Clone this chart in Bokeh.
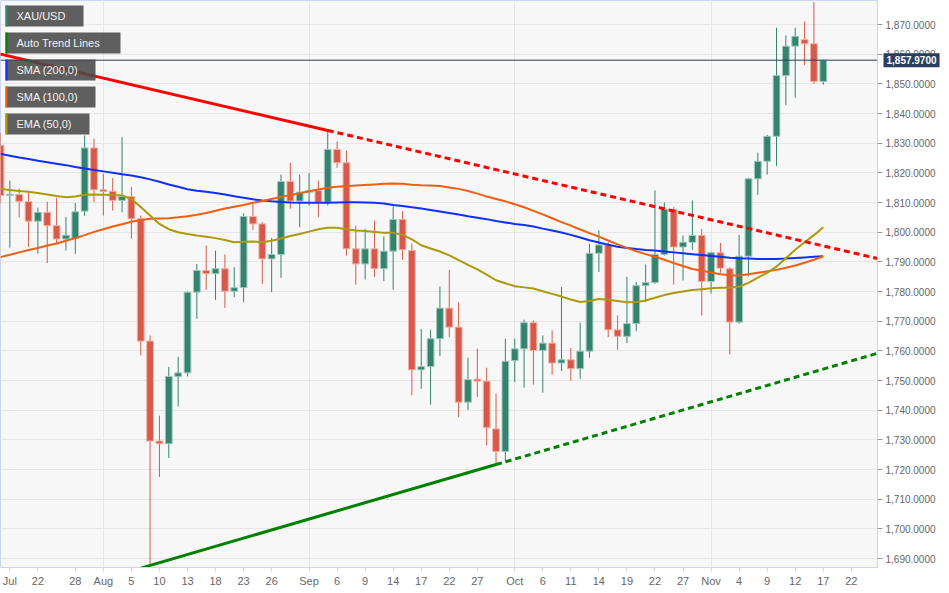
import numpy as np
import pandas as pd
from bokeh.plotting import figure
from bokeh.models import (FixedTicker, NumeralTickFormatter, Span, Label, BoxAnnotation,
                          PolyAnnotation, Range1d, ColumnDataSource)
from bokeh.embed import file_html
from bokeh.resources import INLINE

# ---------------- data ----------------
dates = pd.bdate_range("2021-07-16", "2021-11-17")

opens = [1829.3, 1812.4, 1812.7, 1810.3, 1803.7, 1806.7, 1802.2, 1797.7, 1797.9, 1807.1,
         1828.4, 1814.3, 1813.8, 1810.7, 1812.0, 1804.5, 1763.3, 1729.6, 1728.7, 1751.4,
         1752.6, 1779.8, 1787.1, 1786.0, 1787.7, 1780.1, 1781.3, 1805.3, 1802.8, 1791.0,
         1792.5, 1817.1, 1810.5, 1813.5, 1814.0, 1810.1, 1827.9, 1823.4, 1794.4, 1789.3,
         1794.4, 1787.7, 1793.6, 1804.3, 1793.8, 1753.6, 1754.7, 1764.1, 1774.4, 1768.0,
         1742.7, 1750.5, 1749.8, 1733.7, 1726.1, 1756.7, 1760.7, 1769.5, 1760.1, 1762.6,
         1755.9, 1757.0, 1754.0, 1759.9, 1792.9, 1795.7, 1767.1, 1764.9, 1769.2, 1782.0,
         1783.0, 1792.5, 1807.7, 1795.0, 1796.6, 1798.9, 1783.4, 1793.1, 1787.7, 1769.7,
         1791.9, 1818.0, 1823.9, 1832.3, 1852.8, 1862.7, 1864.9, 1863.5, 1850.8]
highs = [1833.5, 1817.4, 1814.7, 1813.5, 1808.3, 1810.3, 1811.6, 1805.1, 1809.8, 1832.6,
         1831.5, 1819.7, 1818.3, 1832.0, 1815.2, 1805.6, 1765.2, 1738.2, 1754.6, 1758.0,
         1780.0, 1789.3, 1795.5, 1793.8, 1792.5, 1788.2, 1806.4, 1809.6, 1803.4, 1798.1,
         1819.4, 1823.4, 1819.4, 1819.9, 1817.4, 1834.3, 1830.6, 1827.5, 1802.2, 1801.1,
         1803.9, 1798.6, 1808.7, 1807.1, 1796.1, 1767.4, 1767.1, 1781.7, 1787.3, 1776.4,
         1757.7, 1760.8, 1754.3, 1745.6, 1764.1, 1764.1, 1770.5, 1770.2, 1765.2, 1766.9,
         1781.5, 1761.0, 1769.5, 1796.1, 1800.6, 1796.6, 1771.9, 1784.9, 1783.2, 1789.1,
         1814.1, 1810.1, 1808.4, 1798.9, 1810.7, 1801.1, 1793.4, 1796.4, 1788.2, 1799.1,
         1818.3, 1826.8, 1832.8, 1868.9, 1866.3, 1868.9, 1871.0, 1877.5, 1858.1]
lows = [1809.6, 1794.8, 1805.0, 1795.0, 1792.8, 1789.6, 1796.3, 1793.8, 1792.7, 1805.5,
        1810.1, 1805.6, 1807.3, 1806.7, 1797.8, 1758.5, 1687.7, 1717.5, 1723.9, 1741.3,
        1751.4, 1770.8, 1780.6, 1777.2, 1774.5, 1778.1, 1776.4, 1800.8, 1782.6, 1779.8,
        1784.6, 1807.9, 1801.7, 1809.0, 1805.1, 1809.0, 1821.7, 1792.1, 1782.3, 1784.0,
        1784.9, 1783.5, 1780.6, 1790.7, 1745.0, 1747.2, 1741.9, 1758.2, 1764.6, 1737.7,
        1740.1, 1744.4, 1728.1, 1721.7, 1722.5, 1749.5, 1747.6, 1748.6, 1745.9, 1752.0,
        1753.2, 1750.0, 1750.6, 1757.7, 1786.6, 1764.6, 1760.4, 1762.6, 1766.6, 1776.4,
        1782.6, 1792.1, 1782.4, 1783.7, 1794.1, 1771.9, 1779.3, 1786.3, 1758.8, 1769.1,
        1785.1, 1812.6, 1819.4, 1822.3, 1842.9, 1845.3, 1856.4, 1850.0, 1849.7]
closes = [1812.4, 1812.8, 1810.4, 1803.7, 1806.7, 1802.2, 1797.7, 1799.0, 1806.9, 1828.4,
          1814.3, 1813.7, 1810.7, 1812.0, 1804.5, 1763.3, 1729.6, 1728.7, 1751.4, 1752.6,
          1779.8, 1787.1, 1786.0, 1787.7, 1780.1, 1781.3, 1805.3, 1802.8, 1791.0, 1792.5,
          1817.1, 1810.5, 1813.5, 1814.0, 1810.1, 1827.9, 1823.4, 1794.4, 1789.3, 1794.4,
          1787.7, 1793.6, 1804.3, 1794.1, 1753.6, 1754.7, 1764.1, 1774.4, 1768.0, 1742.7,
          1750.3, 1749.8, 1734.1, 1726.1, 1756.5, 1760.7, 1769.5, 1760.1, 1762.6, 1755.9,
          1757.0, 1754.0, 1759.9, 1792.9, 1795.7, 1767.1, 1764.9, 1769.2, 1782.0, 1783.0,
          1792.5, 1807.7, 1795.0, 1796.6, 1798.9, 1783.4, 1793.1, 1787.9, 1769.7, 1791.9,
          1818.0, 1823.9, 1832.3, 1852.8, 1862.7, 1866.0, 1863.5, 1850.8, 1857.97]

sma200 = [1826.4, 1825.8, 1825.2, 1824.7, 1824.1, 1823.6, 1823.1, 1822.6, 1822.0, 1821.5,
          1821.0, 1820.5, 1820.0, 1819.5, 1819.1, 1818.5, 1817.8, 1817.0, 1816.1, 1815.3,
          1814.5, 1814.0, 1813.6, 1813.2, 1812.7, 1812.1, 1811.6, 1811.1, 1810.7, 1810.4,
          1810.2, 1810.0, 1809.9, 1809.9, 1809.9, 1809.9, 1810.0, 1810.1, 1810.1, 1810.0,
          1809.9, 1809.7, 1809.2, 1808.8, 1808.4, 1808.0, 1807.5, 1807.0, 1806.5, 1806.0,
          1805.4, 1804.9, 1804.4, 1803.8, 1803.3, 1802.8, 1802.4, 1801.9, 1801.2, 1800.6,
          1799.9, 1799.1, 1798.2, 1797.3, 1796.5, 1795.8, 1795.1, 1794.7, 1794.3, 1794.0,
          1793.8, 1793.5, 1793.2, 1792.9, 1792.6, 1792.3, 1792.0, 1791.7, 1791.4, 1791.2,
          1791.1, 1791.0, 1791.0, 1791.0, 1791.1, 1791.3, 1791.5, 1791.7, 1791.9]
sma100 = [1791.6, 1792.4, 1793.2, 1794.0, 1794.7, 1795.5, 1796.2, 1797.1, 1798.0, 1799.0,
          1800.1, 1801.0, 1801.9, 1802.7, 1803.5, 1804.1, 1804.5, 1804.6, 1804.7, 1805.0,
          1805.4, 1805.9, 1806.5, 1807.2, 1808.0, 1808.6, 1809.2, 1809.9, 1810.5, 1811.2,
          1811.9, 1812.5, 1813.1, 1813.8, 1814.4, 1815.0, 1815.3, 1815.5, 1815.7, 1815.9,
          1816.1, 1816.3, 1816.4, 1816.3, 1816.0, 1815.8, 1815.7, 1815.6, 1815.1, 1814.6,
          1813.9, 1813.0, 1812.0, 1811.2, 1810.4, 1809.4, 1808.4, 1807.2, 1806.0, 1804.7,
          1803.4, 1802.2, 1800.9, 1799.7, 1798.5, 1797.2, 1795.9, 1794.7, 1793.6, 1792.6,
          1791.7, 1790.7, 1789.6, 1788.6, 1787.6, 1787.0, 1786.4, 1785.8, 1785.5, 1785.4,
          1785.8, 1786.3, 1786.8, 1787.3, 1788.0, 1788.8, 1789.7, 1790.7, 1791.9]
ema50 = [1814.6, 1814.2, 1813.9, 1813.6, 1813.2, 1812.7, 1812.2, 1811.8, 1812.0, 1812.6,
         1812.7, 1812.6, 1812.5, 1812.4, 1811.2, 1808.5, 1805.6, 1802.8, 1801.0, 1800.0,
         1799.4, 1798.9, 1798.5, 1798.0, 1797.4, 1796.6, 1796.8, 1796.9, 1796.6, 1797.1,
         1797.9, 1798.7, 1799.4, 1800.2, 1801.0, 1801.5, 1801.5, 1801.0, 1800.6, 1800.4,
         1800.1, 1799.8, 1799.8, 1799.1, 1797.6, 1795.6, 1794.5, 1793.5, 1792.2, 1790.6,
         1789.0, 1787.5, 1785.7, 1783.8, 1782.8, 1781.8, 1781.4, 1781.0, 1780.1, 1779.2,
         1778.3, 1777.3, 1776.5, 1776.8, 1777.5, 1777.2, 1776.8, 1776.4, 1776.5, 1777.0,
         1777.9, 1778.8, 1779.5, 1780.0, 1780.5, 1780.8, 1781.1, 1781.3, 1781.4, 1781.6,
         1782.9, 1784.7, 1786.3, 1788.4, 1791.2, 1794.1, 1796.6, 1799.0, 1801.7]

# trend line anchors (date, price)
red_trend_dates = ["2021-07-16", "2021-09-03"]
red_trend_prices = [1860.0, 1834.3]
green_trend_dates = ["2021-08-09", "2021-09-29"]
green_trend_prices = [1687.7, 1721.7]

# x-axis tick dates and labels
tick_dates = ["2021-07-19", "2021-07-22", "2021-07-28", "2021-08-02", "2021-08-05", "2021-08-10",
              "2021-08-13", "2021-08-18", "2021-08-23", "2021-08-26", "2021-09-01", "2021-09-06",
              "2021-09-09", "2021-09-14", "2021-09-17", "2021-09-22", "2021-09-27", "2021-10-01",
              "2021-10-06", "2021-10-11", "2021-10-14", "2021-10-19", "2021-10-22", "2021-10-27",
              "2021-11-01", "2021-11-04", "2021-11-09", "2021-11-12", "2021-11-17", "2021-11-22"]
tick_labels = ["Jul", "22", "28", "Aug", "5", "10", "13", "18", "23", "26", "Sep", "6", "9", "14",
               "17", "22", "27", "Oct", "6", "11", "14", "19", "22", "27", "Nov", "4", "9", "12",
               "17", "22"]
month_starts = ["2021-08-02", "2021-09-01", "2021-10-01", "2021-11-01"]
y_ticks = list(range(1690, 1871, 10))

legend_names = ["XAU/USD", "Auto Trend Lines", "SMA (200,0)", "SMA (100,0)", "EMA (50,0)"]

# ---------------- helpers ----------------
all_days = pd.bdate_range("2021-07-16", "2021-12-31")
def day_index(d):
    return int(all_days.get_loc(pd.Timestamp(d)))

x = np.arange(len(dates))
o = np.array(opens); h = np.array(highs); l = np.array(lows); c = np.array(closes)
up = c >= o
GREEN = "#35836e"
RED = "#d65a49"
src = ColumnDataSource(dict(
    x=x, o=o, h=h, l=l, c=c,
    top=np.maximum(o, c), bot=np.minimum(o, c),
    col=[GREEN if u else RED for u in up],
    edge=["#9cc9bb" if u else "#f1ada2" for u in up],
))

X0, X1 = 0.0, 93.8
Y0, Y1 = 1686.99, 1878.09
FW, FH = 877, 567
PX = (X1 - X0) / FW          # data units per pixel (x)
PY = (Y1 - Y0) / FH          # data units per pixel (y)

p = figure(frame_width=FW, frame_height=FH, x_range=Range1d(X0, X1), y_range=Range1d(Y0, Y1),
           y_axis_location="right", toolbar_location=None, output_backend="svg",
           min_border_left=0, min_border_top=0, min_border_right=72, min_border_bottom=26,
           background_fill_color="#f7f7f7", border_fill_color="white",
           outline_line_color="#ccd6eb", outline_line_width=1)

# axes
FONT = "Liberation Sans"
p.yaxis.ticker = FixedTicker(ticks=y_ticks)
p.yaxis.formatter = NumeralTickFormatter(format="0,0.0000")
p.yaxis.axis_line_color = "#ccd6eb"
p.yaxis.major_tick_line_color = "#999999"
p.yaxis.major_tick_out = 5
p.yaxis.major_tick_in = 0
p.yaxis.minor_tick_line_color = None
p.yaxis.major_label_text_font = FONT
p.yaxis.major_label_text_font_size = "10px"
p.yaxis.major_label_text_color = "#666666"
p.yaxis.major_label_standoff = 3

xt = [day_index(d) for d in tick_dates]
p.xaxis.ticker = FixedTicker(ticks=xt)
p.xaxis.major_label_overrides = {t: s for t, s in zip(xt, tick_labels)}
p.xaxis.axis_line_color = "#ccd6eb"
p.xaxis.major_tick_line_color = "#ccd6eb"
p.xaxis.major_tick_out = 4
p.xaxis.major_tick_in = 0
p.xaxis.minor_tick_line_color = None
p.xaxis.major_label_text_font = FONT
p.xaxis.major_label_text_font_size = "11px"
p.xaxis.major_label_text_color = "#666666"
p.xaxis.major_label_standoff = 3

p.ygrid.ticker = FixedTicker(ticks=y_ticks)
p.ygrid.grid_line_color = "#e6e6e6"
p.xgrid.ticker = FixedTicker(ticks=[day_index(d) for d in month_starts])
p.xgrid.grid_line_color = "#e6e6e6"

# candles
p.segment(x0="x", y0="l", x1="x", y1="h", line_color="col", line_width=1, source=src)
p.vbar(x="x", width=0.72, top="top", bottom="bot", fill_color="col", line_color="edge",
       line_width=1, source=src)

# moving averages
p.line(x, sma200, line_color="#1030f5", line_width=2)
p.line(x, sma100, line_color="#f05f0f", line_width=2)
p.line(x, ema50, line_color="#aa9a0c", line_width=2)

# trend lines
def trend(dates_, prices_, color):
    i0, i1 = day_index(dates_[0]), day_index(dates_[1])
    slope = (prices_[1] - prices_[0]) / (i1 - i0)
    p.line([i0 - 1, i1], [prices_[0] - slope, prices_[1]], line_color=color, line_width=3)
    xe = X1 + 1
    p.line([i1, xe], [prices_[1], prices_[1] + slope * (xe - i1)], line_color=color,
           line_width=3, line_dash="6 4")

trend(red_trend_dates, red_trend_prices, "#ff0000")
trend(green_trend_dates, green_trend_prices, "#008000")

# current price line and tag (tag lives in the right side panel so it is not clipped)
last = closes[-1]
NAVY = "#2c3e5e"
p.add_layout(Span(location=last, dimension="width", line_color=NAVY, line_width=1))
p.add_layout(PolyAnnotation(xs=[X1 + 2 * PX, X1 + 7 * PX, X1 + 7 * PX],
                            ys=[last, last + 4 * PY, last - 4 * PY],
                            xs_units="data", ys_units="data",
                            fill_color=NAVY, fill_alpha=1, line_color=NAVY), "right")
p.add_layout(Label(x=X1 + 6 * PX, y=last, x_units="data", y_units="data",
                   text=f"{last:,.4f}", text_font=FONT, text_font_size="10px",
                   text_font_style="bold", text_color="white", text_baseline="middle",
                   text_align="left", background_fill_color=NAVY, background_fill_alpha=1,
                   padding=3), "right")

# legend boxes
legend_colors = ["#2e8b73", "#008000", "#1030f5", "#f05f0f", "#aa9a0c"]
legend_widths = [78, 115, 90, 90, 84]
for k, (name, col, w) in enumerate(zip(legend_names, legend_colors, legend_widths)):
    top = 5 + 27 * k
    p.add_layout(BoxAnnotation(left=5, right=5 + w, top=FH - top, bottom=FH - top - 21,
                               left_units="screen", right_units="screen",
                               top_units="screen", bottom_units="screen",
                               fill_color="#4a4a4a", fill_alpha=0.88, line_color=None))
    p.add_layout(BoxAnnotation(left=5, right=7, top=FH - top, bottom=FH - top - 21,
                               left_units="screen", right_units="screen",
                               top_units="screen", bottom_units="screen",
                               fill_color=col, fill_alpha=1, line_color=None))
    p.add_layout(Label(x=16, y=FH - top - 10.5, x_units="screen", y_units="screen",
                       text=name, text_font=FONT, text_font_size="11px",
                       text_color="#f2f2f2", text_baseline="middle", text_align="left"))

open("out.html", "w").write(file_html(p, INLINE))
